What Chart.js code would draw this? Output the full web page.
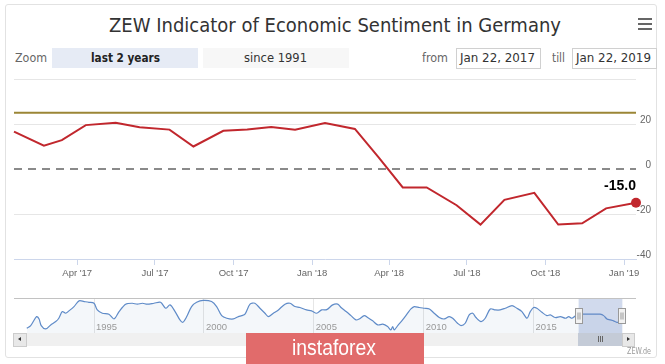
<!DOCTYPE html>
<html lang="en">
<head>
<meta charset="UTF-8">
<title>ZEW Indicator of Economic Sentiment in Germany</title>
<script src="https://cdn.jsdelivr.net/npm/chart.js"></script>
<style>
  html, body { margin: 0; padding: 0; background: #fff; }
  body {
    width: 665px; height: 364px; position: relative; overflow: hidden;
    font-family: "Liberation Sans Narrow", "DejaVu Sans Condensed", "Liberation Sans", sans-serif;
  }
  .frame { position: absolute; left: 5px; top: 4px; width: 650px; height: 352px; border: 1px solid #e2e2e2; border-radius: 3px; }
  .t { position: absolute; white-space: nowrap; transform-origin: 0 50%; line-height: 1; }
  .box { position: absolute; }
  .bar { position: absolute; left: 638px; width: 14px; height: 2px; background: #666; }
  canvas { position: absolute; left: 0; }
</style>
</head>
<body>
  <div class="frame"></div>

  <span class="t" data-w="452" style="left:109px; top:15px; font-size:20px; color:#333;">ZEW Indicator of Economic Sentiment in Germany</span>
  <div class="bar" style="top:18px"></div>
  <div class="bar" style="top:23px"></div>
  <div class="bar" style="top:28px"></div>

  <span class="t" data-w="32" style="left:15px; top:51px; font-size:13px; color:#666;">Zoom</span>
  <div class="box" style="left:52px; top:48px; width:146px; height:20px; background:#e6ebf5;"></div>
  <span class="t" data-w="69" style="left:91px; top:51px; font-size:13px; font-weight:bold; color:#222;">last 2 years</span>
  <div class="box" style="left:203px; top:48px; width:146px; height:20px; background:#f7f7f7;"></div>
  <span class="t" data-w="63" style="left:244px; top:51px; font-size:13px; color:#333;">since 1991</span>

  <span class="t" data-w="26" style="left:422px; top:51px; font-size:13px; color:#666;">from</span>
  <div class="box" style="left:456px; top:48px; width:83px; height:19px; border:1px solid #d0d0d0;"></div>
  <span class="t" data-w="75" style="left:460px; top:51px; font-size:13px; color:#333;">Jan 22, 2017</span>
  <span class="t" data-w="13" style="left:552px; top:51px; font-size:13px; color:#666;">till</span>
  <div class="box" style="left:572px; top:48px; width:83px; height:19px; border:1px solid #d0d0d0;"></div>
  <span class="t" data-w="75" style="left:576px; top:51px; font-size:13px; color:#333;">Jan 22, 2019</span>

  <canvas id="mainChart" width="665" height="215" style="top:70px"></canvas>
  <canvas id="navChart" width="665" height="40" style="top:295px"></canvas>

  <!-- scrollbar -->
  <div class="box" style="left:13px; top:333px; width:621px; height:13px; background:#f0f0f0;"></div>
  <div class="box" style="left:13px; top:333px; width:12px; height:12px; background:#e8e8e8; border:1px solid #cccccc;"></div>
  <div class="box" style="left:18px; top:337px; width:0; height:0; border-top:2px solid transparent; border-bottom:2px solid transparent; border-right:3px solid #333;"></div>
  <div class="box" style="left:578px; top:333px; width:44px; height:13px; background:#c4cbd7;"></div>
  <div class="box" style="left:598px; top:336px; width:1px; height:6px; background:#666;"></div>
  <div class="box" style="left:600px; top:336px; width:1px; height:6px; background:#666;"></div>
  <div class="box" style="left:602px; top:336px; width:1px; height:6px; background:#666;"></div>
  <div class="box" style="left:622px; top:333px; width:11px; height:12px; background:#e8e8e8; border:1px solid #cccccc;"></div>
  <div class="box" style="left:627px; top:337px; width:0; height:0; border-top:2px solid transparent; border-bottom:2px solid transparent; border-left:3px solid #333;"></div>

  <span class="t" data-w="24" style="left:627px; top:347px; font-size:9px; color:#999;">ZEW.de</span>

  <div class="box" style="left:246px; top:333px; width:178px; height:31px; background:#e16b6b;"></div>
  <span class="t" data-w="84" style="left:292px; top:337px; font-size:22px; color:#fff; font-family:'Liberation Sans', sans-serif;">instaforex</span>

<script>
  // main series: ZEW releases, Jan 2017 - Jan 2019
  const releaseDates = ['2017-01-17', '2017-02-21', '2017-03-14', '2017-04-11', '2017-05-16', '2017-06-13',
    '2017-07-18', '2017-08-15', '2017-09-19', '2017-10-17', '2017-11-14', '2017-12-12',
    '2018-01-16', '2018-02-20', '2018-03-20', '2018-04-17', '2018-05-15', '2018-06-19',
    '2018-07-17', '2018-08-14', '2018-09-18', '2018-10-16', '2018-11-13', '2018-12-11', '2019-01-15'];
  const sentiment = [16.6, 10.4, 12.8, 19.5, 20.6, 18.6, 17.5, 10.0, 17.0, 17.6, 18.7, 17.4,
    20.4, 17.8, 5.1, -8.2, -8.2, -16.1, -24.7, -13.7, -10.6, -24.7, -24.1, -17.5, -15.0];
  const longTermAvg = 25;

  const tickDates = ['2017-04-01', '2017-07-01', '2017-10-01', '2018-01-01', '2018-04-01', '2018-07-01', '2018-10-01', '2019-01-01'];
  const tickLabels = ["Apr '17", "Jul '17", "Oct '17", "Jan '18", "Apr '18", "Jul '18", "Oct '18", "Jan '19"];
  const yTicks = [-40, -20, 0, 20, 40];

  // navigator series (whole history)
  const navYears = [1991.94, 1992.12, 1992.39, 1992.50, 1992.60, 1992.80, 1993.03, 1993.26, 1993.40, 1993.56,
    1993.71, 1993.86, 1994.09, 1994.32, 1994.55, 1994.77, 1995.00, 1995.15, 1995.38, 1995.68,
    1995.91, 1996.14, 1996.44, 1996.74, 1996.97, 1997.20, 1997.42, 1997.73, 1998.03, 1998.26,
    1998.46, 1998.69, 1998.91, 1999.04, 1999.22, 1999.44, 1999.67, 1999.97, 2000.35, 2000.58,
    2000.81, 2001.04, 2001.34, 2001.57, 2001.72, 2001.87, 2002.10, 2002.32, 2002.55, 2002.78,
    2002.93, 2003.16, 2003.39, 2003.69, 2003.92, 2004.14, 2004.37, 2004.67, 2004.90, 2005.13,
    2005.36, 2005.59, 2005.86, 2006.09, 2006.24, 2006.47, 2006.69, 2006.92, 2007.07, 2007.30,
    2007.45, 2007.68, 2007.91, 2008.14, 2008.36, 2008.51, 2008.59, 2008.66, 2008.82, 2009.04,
    2009.27, 2009.42, 2009.57, 2009.80, 2010.03, 2010.26, 2010.48, 2010.71, 2010.94, 2011.16,
    2011.32, 2011.54, 2011.70, 2011.89, 2012.07, 2012.23, 2012.38, 2012.61, 2012.80, 2013.03,
    2013.26, 2013.48, 2013.71, 2014.02, 2014.24, 2014.47, 2014.70, 2014.85, 2015.00, 2015.15,
    2015.38, 2015.61, 2015.76, 2015.99, 2016.22, 2016.45, 2016.60, 2016.75, 2016.97, 2017.20,
    2017.50, 2017.80, 2018.03, 2018.19, 2018.34, 2018.49, 2018.64, 2018.79, 2019.04];
  const navValues = [-40, -29, 9, -1, -29, -43, -26, -12, 2, 30,
    23, 33, 51, 75, 72, 69, 65, 37, 23, 19,
    -1, 30, 61, 65, 61, 65, 61, 65, 69, 44,
    58, 30, -5, -15, 9, 51, 69, 77, 72, 51,
    13, 2, -1, 9, 13, 19, 61, 65, 44, 23,
    9, 23, 37, 61, 65, 51, 47, 37, 33, 23,
    37, 38, 58, 61, 47, 30, 13, -5, -1, 13,
    5, -9, -26, -23, -33, -47, -33, -47, -29, -5,
    23, 41, 51, 47, 44, 41, 23, 5, -1, 9,
    2, -19, -29, -19, 16, 23, 5, -12, 2, 41,
    37, 37, 44, 55, 44, 30, 2, 30, 47, 44,
    27, 13, 16, 5, 9, 2, 9, 2, 16, 19,
    19, 19, 19, 13, -1, -5, -9, -15, -15];
  const navTickYears = [1995, 2000, 2005, 2010, 2015];
  const navRange = [1991.36, 2019.57];
  const selectedRange = [2017.05, 2019.04];

  const RED = '#c1272d';
  const dayNum = s => Date.UTC(+s.slice(0, 4), +s.slice(5, 7) - 1, +s.slice(8, 10)) / 86400000;
  const xMin = dayNum(releaseDates[0]);
  const xMax = dayNum(releaseDates[releaseDates.length - 1]);
  const tickDays = tickDates.map(dayNum);

  // stretch html labels to the widths seen in the picture
  document.querySelectorAll('[data-w]').forEach(el => {
    const w = el.getBoundingClientRect().width;
    el.style.transform = 'scaleX(' + (el.dataset.w / w) + ')';
  });

  const lastLabel = {
    id: 'lastLabel',
    afterDatasetsDraw(chart) {
      const meta = chart.getDatasetMeta(0);
      const pt = meta.data[meta.data.length - 1];
      const ctx = chart.ctx;
      const txt = sentiment[sentiment.length - 1].toFixed(1);
      ctx.save();
      ctx.font = 'bold 14px "Liberation Sans", sans-serif';
      const w = ctx.measureText(txt).width;
      ctx.fillStyle = '#000';
      ctx.textAlign = 'center';
      ctx.textBaseline = 'middle';
      ctx.fillText(txt, Math.min(pt.x, chart.chartArea.right - w / 2), pt.y - 17);
      ctx.restore();
    }
  };

  new Chart(document.getElementById('mainChart'), {
    type: 'line',
    data: {
      datasets: [{
        data: releaseDates.map((d, i) => ({ x: dayNum(d), y: sentiment[i] })),
        borderColor: RED,
        borderWidth: 2,
        pointRadius: c => c.dataIndex === sentiment.length - 1 ? 5 : 0,
        pointBackgroundColor: RED,
        pointBorderWidth: 0,
        tension: 0,
        clip: false,
        order: 0
      }, {
        data: [{ x: xMin, y: longTermAvg }, { x: xMax, y: longTermAvg }],
        borderColor: '#9b8636',
        borderWidth: 2,
        pointRadius: 0,
        order: 2
      }, {
        data: [{ x: xMin, y: 0 }, { x: xMax, y: 0 }],
        borderColor: '#8a8a8a',
        borderWidth: 2,
        borderDash: [8, 6],
        pointRadius: 0,
        order: 1
      }]
    },
    options: {
      animation: false,
      responsive: false,
      layout: { padding: { left: 14, top: 9, right: 14, bottom: 0 } },
      plugins: { legend: { display: false }, tooltip: { enabled: false } },
      scales: {
        x: {
          type: 'linear',
          min: xMin,
          max: xMax,
          afterBuildTicks: s => { s.ticks = tickDays.map(v => ({ value: v })); },
          afterFit: s => { s.height = 26; },
          ticks: {
            autoSkip: false,
            maxRotation: 0,
            padding: 3,
            color: '#666',
            font: { family: '"Liberation Sans", sans-serif', size: 9.5 },
            callback: v => tickLabels[tickDays.indexOf(v)]
          },
          grid: { drawOnChartArea: false, drawTicks: true, tickLength: 6, color: '#ccd6eb' },
          border: { color: '#ccd6eb' }
        },
        y: {
          position: 'right',
          min: -40,
          max: 40,
          afterBuildTicks: s => { s.ticks = yTicks.map(v => ({ value: v })); },
          afterFit: s => { s.width = 15; },
          ticks: {
            crossAlign: 'far',
            padding: 1,
            labelOffset: -4,
            color: '#666',
            font: { family: '"Liberation Sans", sans-serif', size: 10 },
            callback: v => v === 40 ? '' : v
          },
          grid: {
            drawTicks: false,
            color: c => (c.tick && (c.tick.value === 40 || c.tick.value === 20 || c.tick.value === -20)) ? '#e6e6e6' : 'rgba(0,0,0,0)'
          },
          border: { display: false }
        }
      }
    },
    plugins: [lastLabel]
  });

  const navExtras = {
    id: 'navExtras',
    afterDatasetsDraw(chart) {
      const ctx = chart.ctx;
      const { top, bottom, left, right } = chart.chartArea;
      const xs = chart.scales.x;
      ctx.save();
      // year labels inside the navigator
      ctx.font = '9.5px "Liberation Sans", sans-serif';
      ctx.fillStyle = '#999';
      ctx.textBaseline = 'middle';
      navTickYears.forEach(y => ctx.fillText(String(y), xs.getPixelForValue(y) + 2, bottom - 5.5));
      // selected range
      const x0 = xs.getPixelForValue(selectedRange[0]);
      const x1 = xs.getPixelForValue(selectedRange[1]);
      ctx.fillStyle = 'rgba(102,133,194,0.3)';
      ctx.fillRect(x0, top, x1 - x0, bottom - top);
      // outline
      ctx.strokeStyle = '#c2c2c2';
      ctx.lineWidth = 1;
      ctx.beginPath();
      ctx.moveTo(left, top + 0.5);
      ctx.lineTo(right + 2, top + 0.5);
      ctx.stroke();
      // handles
      [x0, x1].forEach(x => {
        const hx = Math.round(x) - 3.5, hy = top + 10.5;
        ctx.fillStyle = '#f2f2f2';
        ctx.fillRect(hx, hy, 7, 15);
        ctx.strokeStyle = '#999';
        ctx.strokeRect(hx, hy, 7, 15);
        ctx.beginPath();
        ctx.moveTo(hx + 2.5, hy + 4); ctx.lineTo(hx + 2.5, hy + 11);
        ctx.moveTo(hx + 4.5, hy + 4); ctx.lineTo(hx + 4.5, hy + 11);
        ctx.stroke();
      });
      ctx.restore();
    }
  };

  new Chart(document.getElementById('navChart'), {
    type: 'line',
    data: {
      datasets: [{
        data: navYears.map((y, i) => ({ x: y, y: navValues[i] })),
        borderColor: '#5f8bc8',
        borderWidth: 1.2,
        backgroundColor: 'rgba(69,114,167,0.06)',
        fill: 'start',
        pointRadius: 0,
        tension: 0.3
      }]
    },
    options: {
      animation: false,
      responsive: false,
      layout: { padding: { left: 14, top: 3, right: 31, bottom: 2 } },
      plugins: { legend: { display: false }, tooltip: { enabled: false } },
      scales: {
        x: {
          type: 'linear',
          min: navRange[0],
          max: navRange[1],
          afterBuildTicks: s => { s.ticks = navTickYears.map(v => ({ value: v })); },
          afterFit: s => { s.height = 0; },
          ticks: { display: false },
          grid: { drawTicks: false, color: '#e6e6e6' },
          border: { display: false }
        },
        y: { display: false, min: -60, max: 87 }
      }
    },
    plugins: [navExtras]
  });
</script>
</body>
</html>
